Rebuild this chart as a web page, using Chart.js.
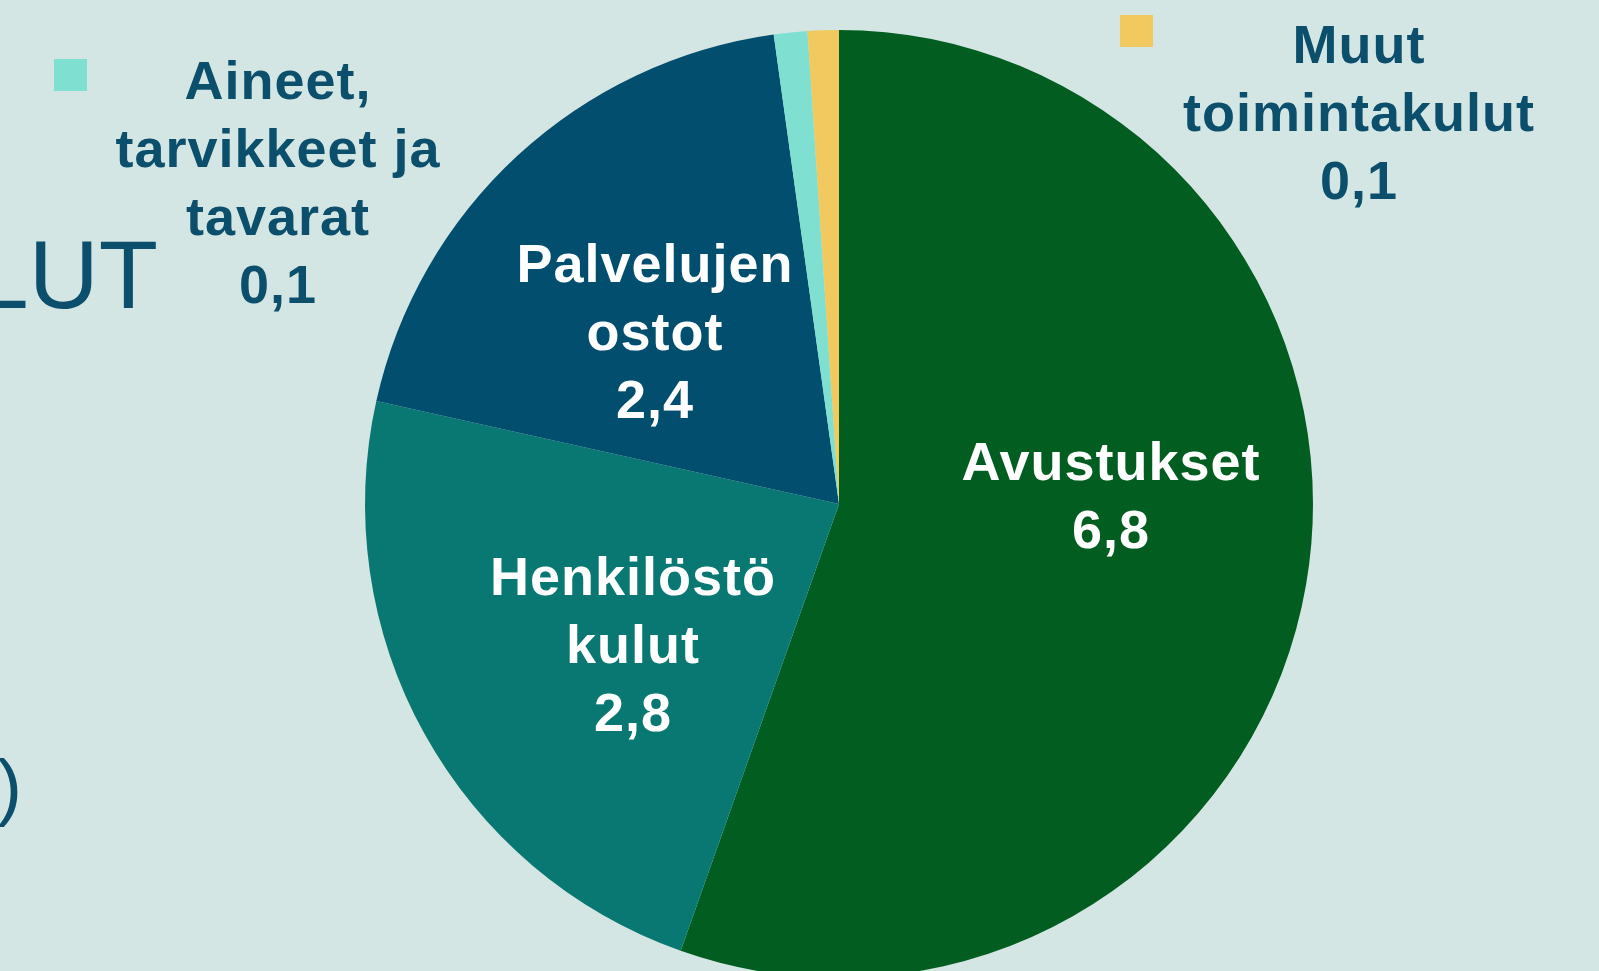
<!DOCTYPE html>
<html>
<head>
<meta charset="utf-8">
<script src="https://cdn.jsdelivr.net/npm/chart.js@4.4.1/dist/chart.umd.min.js"></script>
<style>
  html, body { margin: 0; padding: 0; background: #D4E6E4; overflow: hidden; width: 1599px; height: 971px; }
  #wrap { position: absolute; left: 0; top: 0; }
</style>
</head>
<body>
<div id="wrap"><canvas id="pie" width="1599" height="1020"></canvas></div>
<script>
// data (milj. €)
const categories = ['Avustukset', 'Henkilöstökulut', 'Palvelujen ostot', 'Aineet, tarvikkeet ja tavarat', 'Muut toimintakulut'];
const values = [6.8, 2.83, 2.37, 0.14, 0.13];
// label lines as they are wrapped on the slide
const labelLines = [
    ['Avustukset'],
    ['Henkilöstö', 'kulut'],
    ['Palvelujen', 'ostot'],
    ['Aineet,', 'tarvikkeet ja', 'tavarat'],
    ['Muut', 'toimintakulut']
];
const colors = ['#025E20', '#0A7872', '#024E6E', '#7FE0D2', '#F2C95E'];

// label placement relative to pie centre: [dx, first baseline dy, inside?]
const labelPos = [
    [272, -24, true],
    [-206, 91, true],
    [-184, -222, true],
    [-561, -405, false],
    [520, -441, false]
];
// small legend keys next to the outside labels
const keyPos = { 3: [54, 59], 4: [1120, 15] };

const textBlue = '#0B4F6C';
const fmt = v => v.toFixed(1).replace('.', ',');

const labelPlugin = {
    id: 'slideLabels',
    afterDraw(chart) {
        const ctx = chart.ctx;
        const arc = chart.getDatasetMeta(0).data[0];
        const cx = arc.x, cy = arc.y;
        ctx.save();
        ctx.textAlign = 'center';
        ctx.textBaseline = 'alphabetic';
        ctx.font = 'bold 54px "Liberation Sans", Arial, sans-serif';
        ctx.letterSpacing = '1px';
        values.forEach((v, i) => {
            const [dx, dy, inside] = labelPos[i];
            const lines = labelLines[i].concat([fmt(v)]);
            ctx.fillStyle = inside ? '#FFFFFF' : textBlue;
            lines.forEach((t, k) => ctx.fillText(t, cx + dx, cy + dy + k * 68));
            if (keyPos[i]) {
                ctx.fillStyle = colors[i];
                ctx.fillRect(keyPos[i][0], keyPos[i][1], 33, 32);
            }
        });
        // cut-off slide title on the left
        ctx.letterSpacing = '0px';
        ctx.fillStyle = textBlue;
        ctx.textAlign = 'right';
        ctx.font = '97px "Liberation Sans", Arial, sans-serif';
        ctx.fillText('LUT', 158, 308);
        ctx.textAlign = 'left';
        ctx.font = '75px "Liberation Sans", Arial, sans-serif';
        ctx.fillText(')', -3, 812);
        ctx.restore();
    }
};

new Chart(document.getElementById('pie').getContext('2d'), {
    type: 'pie',
    data: {
        labels: categories,
        datasets: [{
            data: values,
            backgroundColor: colors,
            borderWidth: 0
        }]
    },
    options: {
        responsive: false,
        animation: false,
        layout: { padding: { left: 365, right: 286, top: 30, bottom: 42 } },
        plugins: { legend: { display: false }, tooltip: { enabled: false } }
    },
    plugins: [labelPlugin]
});
</script>
</body>
</html>
